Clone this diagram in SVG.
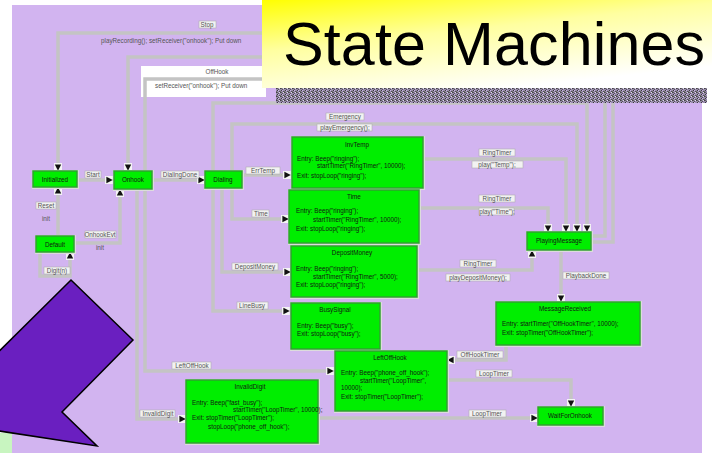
<svg xmlns="http://www.w3.org/2000/svg" width="712" height="453" viewBox="0 0 712 453">
<defs>
<style>
.bg{fill:#d2b4f0}
.c{fill:none;stroke:#c4c4c4;stroke-width:3.5;stroke-linejoin:miter}
.nf{fill:#dcdcdc}
.n{fill:#00ee00;stroke:#30a030;stroke-width:1.5}
.t{font-family:"Liberation Sans",Arial,sans-serif;font-size:6.3px;fill:#102010}
.tc{text-anchor:middle}
.lb{fill:#f2f2f2;stroke:#b0b0b0;stroke-width:0.6}
.lt{font-family:"Liberation Sans",Arial,sans-serif;font-size:6.3px;fill:#555;text-anchor:middle}
</style>
<marker id="ah" viewBox="0 0 10 10" refX="9" refY="5" markerWidth="8" markerHeight="8" markerUnits="userSpaceOnUse" orient="auto">
<rect x="0" y="0" width="10" height="10" fill="#f4f4f4"/>
<path d="M2,1 L10,5 L2,9 Z" fill="#111"/>
</marker>
<linearGradient id="yg" x1="0" y1="0" x2="0.55" y2="1">
<stop offset="0" stop-color="#ffff00"/>
<stop offset="0.45" stop-color="#ffffa0"/>
<stop offset="1" stop-color="#ffffff"/>
</linearGradient>
<pattern id="dith" width="4" height="4" patternUnits="userSpaceOnUse">
<rect width="4" height="4" fill="#9a8cae"/>
<rect x="0" y="0" width="1" height="1" fill="#444"/>
<rect x="2" y="1" width="1" height="1" fill="#555"/>
<rect x="1" y="2" width="1" height="1" fill="#3a3a3a"/>
<rect x="3" y="3" width="1" height="1" fill="#505050"/>
<rect x="3" y="0" width="1" height="1" fill="#e0d8ee"/>
<rect x="1" y="0" width="1" height="1" fill="#606060"/>
<rect x="0" y="3" width="1" height="1" fill="#6a6a6a"/>
<rect x="2" y="2" width="1" height="1" fill="#c8b8e0"/>
</pattern>
</defs>
<rect width="712" height="453" fill="#ffffff"/>
<rect class="bg" x="12" y="5" width="690" height="448"/>
<rect x="0" y="433" width="12" height="20" fill="#c8f5c0"/>

<g id="offhook-box">
<rect x="141" y="66" width="125" height="31" fill="#ffffff"/>
<text class="lt" x="217" y="74">OffHook</text>
<text class="lt" x="155" y="88" style="text-anchor:start">setReceiver("onhook"); Put down</text>
</g>

<g id="connectors">
<path class="c" d="M590,242 H613 V33 H58 V170" marker-end="url(#ah)"/>
<path class="c" d="M590,236 H605 V57 H128 V170" marker-end="url(#ah)"/>
<path class="c" d="M266,79 H145 V371 H333" marker-end="url(#ah)"/>
<path class="c" d="M232,171 V124 H577 V231" marker-end="url(#ah)"/>
<path class="c" d="M213,171 V103 H587 V231" marker-end="url(#ah)"/>
<path class="c" d="M213,188 V311 H289" marker-end="url(#ah)"/>
<path class="c" d="M232,188 V219 H288" marker-end="url(#ah)"/>
<path class="c" d="M222,188 V272 H290" marker-end="url(#ah)"/>
<path class="c" d="M77,180 H112" marker-end="url(#ah)"/>
<path class="c" d="M152,180 H204" marker-end="url(#ah)"/>
<path class="c" d="M242,175 H290" marker-end="url(#ah)"/>
<path class="c" d="M58,236 V188" marker-end="url(#ah)"/>
<path class="c" d="M74,243 H120 V190" marker-end="url(#ah)"/>
<path class="c" d="M40,252 V276 H70 V253" marker-end="url(#ah)"/>
<path class="c" d="M137,189 V419 H185" marker-end="url(#ah)"/>
<path class="c" d="M423,159 H566 V231" marker-end="url(#ah)"/>
<path class="c" d="M419,208 H548 V231" marker-end="url(#ah)"/>
<path class="c" d="M417,270 H532 V251" marker-end="url(#ah)"/>
<path class="c" d="M561,250 V301" marker-end="url(#ah)"/>
<path class="c" d="M506,345 V360 H448" marker-end="url(#ah)"/>
<path class="c" d="M447,380 H571 V406" marker-end="url(#ah)"/>
<path class="c" d="M318,418 H537" marker-end="url(#ah)"/>
</g>

<g id="labels">
<rect class="lb" x="199" y="21" width="17" height="7"/><text class="lt" x="207" y="27">Stop</text>
<text class="lt" x="101" y="43" style="text-anchor:start">playRecording(); setReceiver("onhook"); Put down</text>
<rect class="lb" x="85" y="171" width="16" height="7"/><text class="lt" x="93" y="177">Start</text>
<rect class="lb" x="161" y="171" width="38" height="7"/><text class="lt" x="180" y="177">DialingDone</text>
<rect class="lb" x="246" y="167" width="34" height="7"/><text class="lt" x="263" y="173">ErrTemp</text>
<rect class="lb" x="252" y="210" width="17" height="7"/><text class="lt" x="261" y="216">Time</text>
<rect class="lb" x="232" y="263" width="46" height="7"/><text class="lt" x="255" y="269">DepositMoney</text>
<rect class="lb" x="237" y="302" width="31" height="7"/><text class="lt" x="252" y="308">LineBusy</text>
<rect class="lb" x="172" y="362" width="39" height="7"/><text class="lt" x="192" y="368">LeftOffHook</text>
<rect class="lb" x="140" y="410" width="35" height="7"/><text class="lt" x="158" y="416">InvalidDigit</text>
<rect class="lb" x="36" y="202" width="20" height="7"/><text class="lt" x="46" y="208">Reset</text>
<text class="lt" x="46" y="221">init</text>
<rect class="lb" x="85" y="231" width="31" height="7"/><text class="lt" x="100" y="237">OnhookEvt</text>
<text class="lt" x="100" y="250">init</text>
<rect class="lb" x="44" y="267" width="26" height="7"/><text class="lt" x="57" y="273">Digit(n)</text>
<rect class="lb" x="479" y="149" width="36" height="7"/><text class="lt" x="497" y="155">RingTimer</text>
<rect class="lb" x="472" y="161" width="51" height="7"/><text class="lt" x="497" y="167">play("Temp");</text>
<rect class="lb" x="479" y="195" width="36" height="7"/><text class="lt" x="497" y="201">RingTimer</text>
<rect class="lb" x="479" y="208" width="35" height="7"/><text class="lt" x="497" y="214">play("Time");</text>
<rect class="lb" x="460" y="260" width="36" height="7"/><text class="lt" x="478" y="266">RingTimer</text>
<rect class="lb" x="446" y="274" width="64" height="7"/><text class="lt" x="478" y="280">playDepositMoney();</text>
<rect class="lb" x="563" y="272" width="46" height="7"/><text class="lt" x="586" y="278">PlaybackDone</text>
<rect class="lb" x="457" y="351" width="46" height="7"/><text class="lt" x="480" y="357">OffHookTimer</text>
<rect class="lb" x="476" y="370" width="36" height="7"/><text class="lt" x="494" y="376">LoopTimer</text>
<rect class="lb" x="469" y="410" width="37" height="7"/><text class="lt" x="487" y="416">LoopTimer</text>
<rect class="lb" x="326" y="113" width="38" height="7"/><text class="lt" x="345" y="119">Emergency</text>
<rect class="lb" x="317" y="124" width="55" height="7"/><text class="lt" x="345" y="130">playEmergency();</text>
</g>

<g id="n-initialized"><rect class="nf" x="32" y="170" width="47" height="19"/><rect class="n" x="33" y="171" width="44" height="16"/><text class="t tc" x="55" y="181.5">Initialized</text></g>
<g id="n-onhook"><rect class="nf" x="113" y="170" width="41" height="21"/><rect class="n" x="114" y="171" width="38" height="18"/><text class="t tc" x="133" y="182">Onhook</text></g>
<g id="n-dialing"><rect class="nf" x="204" y="170" width="40" height="20"/><rect class="n" x="205" y="171" width="37" height="17"/><text class="t tc" x="223" y="182">Dialing</text></g>
<g id="n-default"><rect class="nf" x="35" y="235" width="41" height="19"/><rect class="n" x="36" y="236" width="38" height="16"/><text class="t tc" x="55" y="246.5">Default</text></g>

<g id="n-invtemp"><rect class="nf" x="291" y="136" width="134" height="54"/><rect class="n" x="292" y="137" width="131" height="51"/>
<text class="t tc" x="357" y="147">InvTemp</text>
<text class="t" x="297" y="161">Entry: Beep("ringing");</text>
<text class="t" x="317" y="168">startTimer("RingTimer", 10000);</text>
<text class="t" x="297" y="178">Exit: stopLoop("ringing");</text></g>

<g id="n-time"><rect class="nf" x="288" y="189" width="133" height="56"/><rect class="n" x="289" y="190" width="130" height="53"/>
<text class="t tc" x="354" y="199">Time</text>
<text class="t" x="296" y="213">Entry: Beep("ringing");</text>
<text class="t" x="313" y="222">startTimer("RingTimer", 10000);</text>
<text class="t" x="296" y="231">Exit: stopLoop("ringing");</text></g>

<g id="n-deposit"><rect class="nf" x="290" y="245" width="129" height="54"/><rect class="n" x="291" y="246" width="126" height="51"/>
<text class="t tc" x="352" y="255">DepositMoney</text>
<text class="t" x="296" y="271">Entry: Beep("ringing");</text>
<text class="t" x="313" y="279">startTimer("RingTimer", 5000);</text>
<text class="t" x="296" y="287">Exit: stopLoop("ringing");</text></g>

<g id="n-busy"><rect class="nf" x="290" y="302" width="92" height="49"/><rect class="n" x="291" y="303" width="89" height="46"/>
<text class="t tc" x="335" y="312">BusySignal</text>
<text class="t" x="297" y="328">Entry: Beep("busy");</text>
<text class="t" x="297" y="336">Exit: stopLoop("busy");</text></g>

<g id="n-playing"><rect class="nf" x="526" y="231" width="67" height="21"/><rect class="n" x="527" y="232" width="64" height="18"/><text class="t tc" x="559" y="243">PlayingMessage</text></g>

<g id="n-msgrecv"><rect class="nf" x="495" y="301" width="147" height="46"/><rect class="n" x="496" y="302" width="144" height="43"/>
<text class="t tc" x="565" y="311">MessageReceived</text>
<text class="t" x="502" y="326">Entry: startTimer("OffHookTimer", 10000);</text>
<text class="t" x="502" y="335">Exit: stopTimer("OffHookTimer");</text></g>

<g id="n-leftoffhook"><rect class="nf" x="334" y="350" width="115" height="63"/><rect class="n" x="335" y="351" width="112" height="60"/>
<text class="t tc" x="390" y="360">LeftOffHook</text>
<text class="t" x="341" y="375">Entry: Beep("phone_off_hook");</text>
<text class="t" x="360" y="383">startTimer("LoopTimer",</text>
<text class="t" x="341" y="390">10000);</text>
<text class="t" x="341" y="399">Exit: stopTimer("LoopTimer");</text></g>

<g id="n-invalid"><rect class="nf" x="185" y="379" width="135" height="66"/><rect class="n" x="186" y="380" width="132" height="63"/>
<text class="t tc" x="250" y="389">InvalidDigit</text>
<text class="t" x="192" y="405">Entry: Beep("fast_busy");</text>
<text class="t" x="233" y="412">startTimer("LoopTimer", 10000);</text>
<text class="t" x="192" y="420">Exit: stopTimer("LoopTimer");</text>
<text class="t" x="208" y="429">stopLoop("phone_off_hook");</text></g>

<g id="n-wait"><rect class="nf" x="537" y="406" width="68" height="21"/><rect class="n" x="538" y="407" width="65" height="18"/><text class="t tc" x="570" y="418">WaitForOnhook</text></g>

<g id="title">
<rect x="262" y="0" width="450" height="88" fill="url(#yg)"/>
<text x="283" y="65" font-family="'Liberation Sans',Arial,sans-serif" font-size="61" fill="#000" textLength="422">State Machines</text>
<rect x="276" y="88" width="431" height="15" fill="url(#dith)"/>
</g>

<g id="pointer">
<polygon points="71,280 133,340 62,412 97,446 -40,425 -40,390" fill="#6a1fc0" stroke="#000" stroke-width="1.5" stroke-linejoin="miter"/>
</g>
</svg>
